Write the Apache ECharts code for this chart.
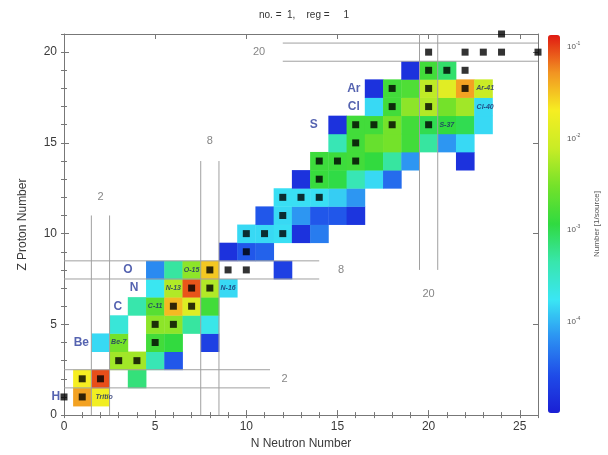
<!DOCTYPE html>
<html>
<head>
<meta charset="utf-8">
<script src="https://cdn.jsdelivr.net/npm/echarts@6/dist/echarts.min.js"></script>
<style>
html,body{margin:0;padding:0;background:#fff;}
#chart{width:608px;height:455px;}
</style>
</head>
<body>
<div id="chart"></div>
<script>
// 核种分布 [N, Z, 1/source]
var cells = [
  [1,1,0.045],[2,1,0.018],
  [1,2,0.02],[2,2,0.09],[4,2,0.0007],
  [3,3,0.005],[4,3,0.005],[5,3,0.0004],[6,3,0.00003],
  [2,4,0.00015],[3,4,0.003],[5,4,0.0015],[6,4,0.0012],[8,4,0.00002],
  [3,5,0.00025],[5,5,0.004],[6,5,0.004],[7,5,0.0005],[8,5,0.0002],
  [4,6,0.00045],[5,6,0.002],[6,6,0.035],[7,6,0.012],[8,6,0.0015],
  [5,7,0.00018],[6,7,0.006],[7,7,0.085],[8,7,0.006],[9,7,0.00015],
  [5,8,0.00006],[6,8,0.0005],[7,8,0.004],[8,8,0.03],[12,8,0.00002],
  [9,9,0.000015],[10,9,0.00003],[11,9,0.000035],
  [10,10,0.00015],[11,10,0.00015],[12,10,0.00016],[13,10,0.000015],[14,10,0.00005],
  [11,11,0.00003],[12,11,0.00015],[13,11,0.00007],[14,11,0.00003],[15,11,0.00003],[16,11,0.000016],
  [12,12,0.00016],[13,12,0.00016],[14,12,0.00016],[15,12,0.00013],[16,12,0.00007],
  [13,13,0.000015],[14,13,0.0013],[15,13,0.0011],[16,13,0.0004],[17,13,0.00015],[18,13,0.00004],
  [14,14,0.0014],[15,14,0.0014],[16,14,0.0015],[17,14,0.0012],[18,14,0.0005],[19,14,0.00007],[22,14,0.000015],
  [15,15,0.0004],[16,15,0.0015],[17,15,0.0025],[18,15,0.003],[19,15,0.0015],[20,15,0.0005],[21,15,0.00007],[22,15,0.00015],
  [15,16,0.000015],[16,16,0.0015],[17,16,0.0015],[18,16,0.003],[19,16,0.0015],[20,16,0.001],[21,16,0.0012],[22,16,0.001],[23,16,0.00015],
  [17,17,0.00015],[18,17,0.0015],[19,17,0.004],[20,17,0.006],[21,17,0.003],[22,17,0.005],[23,17,0.00015],
  [17,18,0.000015],[18,18,0.0015],[19,18,0.0018],[20,18,0.007],[21,18,0.013],[22,18,0.045],[23,18,0.008],
  [19,19,0.000015],[20,19,0.0015],[21,19,0.0008]
];
// 稳定核 [N, Z]
var stable = [
  [0,1],[1,1],[1,2],[2,2],[3,3],[4,3],[5,4],[5,5],[6,5],[6,6],[7,6],[7,7],[8,7],
  [8,8],[9,8],[10,8],[10,9],[10,10],[11,10],[12,10],[12,11],[12,12],[13,12],[14,12],
  [14,13],[14,14],[15,14],[16,14],[16,15],[16,16],[17,16],[18,16],[20,16],[18,17],[20,17],
  [18,18],[20,18],[22,18],[20,19],[21,19],[22,19],[20,20],[22,20],[23,20],[24,20],[26,20],[24,21]
];
var elemLabels = [['H',-0.45,1],['Be',0.95,4],['C',2.95,6],['N',3.85,7],['O',3.5,8],['S',13.7,16],['Cl',15.9,17],['Ar',15.9,18]];
var isoLabels = [['Tritio',2.2,1],['Be-7',3,4],['C-11',5,6],['N-13',6,7],['O-15',7,8],['N-16',9,7],['S-37',21,16],['Cl-40',23.1,17],['Ar-41',23.1,18]];
// 幻数线
var magicNums = [2, 8, 20];
var magicVSpan = [[0,11],[0,14],[8,21]];
var magicHSpan = [[0,11.3],[0,14],[12,26]];
var magicVLabelZ = [12, 15.1, 6.7];
var magicHLabelN = [12.1, 15.2, 10.7];
var colorTicks = [-4, -3, -2, -1];

var segs = [], magicLabels = [];
magicNums.forEach(function(m, i){
  segs.push([m-0.5, magicVSpan[i][0], m-0.5, magicVSpan[i][1]]);
  segs.push([m+0.5, magicVSpan[i][0], m+0.5, magicVSpan[i][1]]);
  segs.push([magicHSpan[i][0], m-0.5, magicHSpan[i][1], m-0.5]);
  segs.push([magicHSpan[i][0], m+0.5, magicHSpan[i][1], m+0.5]);
  magicLabels.push({name: String(m), value: [m, magicVLabelZ[i]]});
  magicLabels.push({name: String(m), value: [magicHLabelN[i], m]});
});

var frame = '#777';
var font = 'Liberation Sans, Arial, sans-serif';
function ax(extra){
  var o = {
    type: 'value', gridIndex: 0, splitLine: {show: false},
    axisLine: {show: true, onZero: false, lineStyle: {color: frame, width: 1}},
    axisTick: {show: true, inside: true, length: 5, lineStyle: {color: frame}},
    axisLabel: {show: false}
  };
  for (var k in extra) o[k] = extra[k];
  return o;
}
var minorTick = {show: true, inside: true, length: 3, lineStyle: {color: frame}};

var myChart = echarts.init(document.getElementById('chart'));
var option = {
  animation: false,
  textStyle: {fontFamily: font},
  title: {
    text: 'no. =  1,    reg =     1', left: 'center', top: 5,
    textStyle: {fontSize: 10, fontWeight: 'normal', color: '#333', fontFamily: font}
  },
  grid: [
    {left: 64, top: 34, width: 474, height: 382},
    {left: 548, top: 35, width: 12, height: 378}
  ],
  xAxis: [
    ax({position: 'bottom', min: 0, max: 26, interval: 5,
      axisLabel: {show: true, color: '#3a3a3a', fontSize: 12, margin: 6, showMaxLabel: false},
      name: 'N Neutron Number', nameLocation: 'middle', nameGap: 22,
      nameTextStyle: {color: '#3a3a3a', fontSize: 12}}),
    ax({position: 'bottom', min: 0, max: 26, interval: 1, axisLine: {show: false}, axisTick: minorTick}),
    ax({position: 'top', min: 0, max: 26, interval: 5}),
    ax({position: 'top', min: 0, max: 26, interval: 1, axisLine: {show: false}, axisTick: minorTick}),
    {type: 'value', gridIndex: 1, show: false, min: 0, max: 1}
  ],
  yAxis: [
    ax({position: 'left', min: 0, max: 21, interval: 5,
      axisLabel: {show: true, color: '#3a3a3a', fontSize: 12, margin: 7, showMaxLabel: false},
      name: 'Z Proton Number', nameLocation: 'middle', nameGap: 35,
      nameTextStyle: {color: '#3a3a3a', fontSize: 12}}),
    ax({position: 'left', min: 0, max: 21, interval: 1, axisLine: {show: false}, axisTick: minorTick}),
    ax({position: 'right', min: 0, max: 21, interval: 5}),
    ax({position: 'right', min: 0, max: 21, interval: 1, axisLine: {show: false}, axisTick: minorTick}),
    {type: 'value', gridIndex: 1, position: 'right', min: -5, max: -0.87, interval: 1,
      splitLine: {show: false}, axisLine: {show: false},
      axisTick: {show: false},
      axisLabel: {
        show: true, margin: 7, showMinLabel: false, showMaxLabel: false,
        formatter: function(v){ return colorTicks.indexOf(v) >= 0 ? '{b|10}{s|' + v + '}' : ''; },
        rich: {
          b: {fontSize: 8, color: '#555', fontFamily: font},
          s: {fontSize: 5, color: '#555', fontFamily: font, verticalAlign: 'top', padding: [0, 0, 6, 0]}
        }
      },
      name: 'Number [1/source]', nameLocation: 'middle', nameRotate: 90, nameGap: 33,
      nameTextStyle: {color: '#555', fontSize: 8}}
  ],
  visualMap: {
    type: 'continuous', seriesIndex: 0, dimension: 2,
    min: -5, max: -0.87, calculable: false, show: true,
    left: 548, top: 35, itemWidth: 12, itemHeight: 378, padding: 0,
    inRange: {color: ['#1a1fd4','#1f4ce8','#2c92f2','#3ae6f4','#38e6ac','#30da40','#74e22a','#c8ec26','#f6ee22','#f29422','#e01a12']}
  },
  series: [
    {
      type: 'custom', xAxisIndex: 0, yAxisIndex: 0, z: 2,
      dimensions: ['N', 'Z', 'logv'],
      encode: {x: 0, y: 1},
      data: cells.map(function(c){ return [c[0], c[1], Math.log10(c[2])]; }),
      renderItem: function(params, api){
        var p = api.coord([api.value(0) - 0.5, api.value(1) + 0.5]);
        var s = api.size([1, 1]);
        return {type: 'rect', shape: {x: p[0], y: p[1], width: s[0] + 0.4, height: s[1] + 0.4},
          style: {fill: api.visual('color')}};
      }
    },
    {
      type: 'custom', xAxisIndex: 0, yAxisIndex: 0, z: 3, clip: false,
      encode: {x: [0, 2], y: [1, 3]},
      data: segs,
      renderItem: function(params, api){
        var a = api.coord([api.value(0), api.value(1)]);
        var b = api.coord([api.value(2), api.value(3)]);
        return {type: 'line', shape: {x1: a[0], y1: a[1], x2: b[0], y2: b[1]},
          style: {stroke: '#a0a0a0', lineWidth: 1}};
      }
    },
    {
      type: 'scatter', xAxisIndex: 0, yAxisIndex: 0, z: 5, clip: false,
      symbol: 'rect', symbolSize: 7, itemStyle: {color: '#000'},
      data: stable
    },
    {
      type: 'scatter', xAxisIndex: 0, yAxisIndex: 0, z: 6, clip: false, symbolSize: 0,
      data: elemLabels.map(function(e){ return {name: e[0], value: [e[1], e[2]]}; }),
      label: {show: true, position: 'inside', formatter: '{b}', color: '#2a3c9c',
        fontSize: 12, fontWeight: 'bold'}
    },
    {
      type: 'scatter', xAxisIndex: 0, yAxisIndex: 0, z: 6, clip: false, symbolSize: 0,
      data: isoLabels.map(function(e){ return {name: e[0], value: [e[1], e[2]]}; }),
      label: {show: true, position: 'inside', formatter: '{b}', color: '#1c2a6a',
        fontSize: 7, fontStyle: 'italic', fontWeight: 'bold'}
    },
    {
      type: 'scatter', xAxisIndex: 0, yAxisIndex: 0, z: 6, clip: false, symbolSize: 0,
      data: magicLabels,
      label: {show: true, position: 'inside', formatter: '{b}', color: '#666', fontSize: 11}
    }
  ]
};
if (option && typeof option === "object") {
  myChart.setOption(option, true);
}
</script>
</body>
</html>
